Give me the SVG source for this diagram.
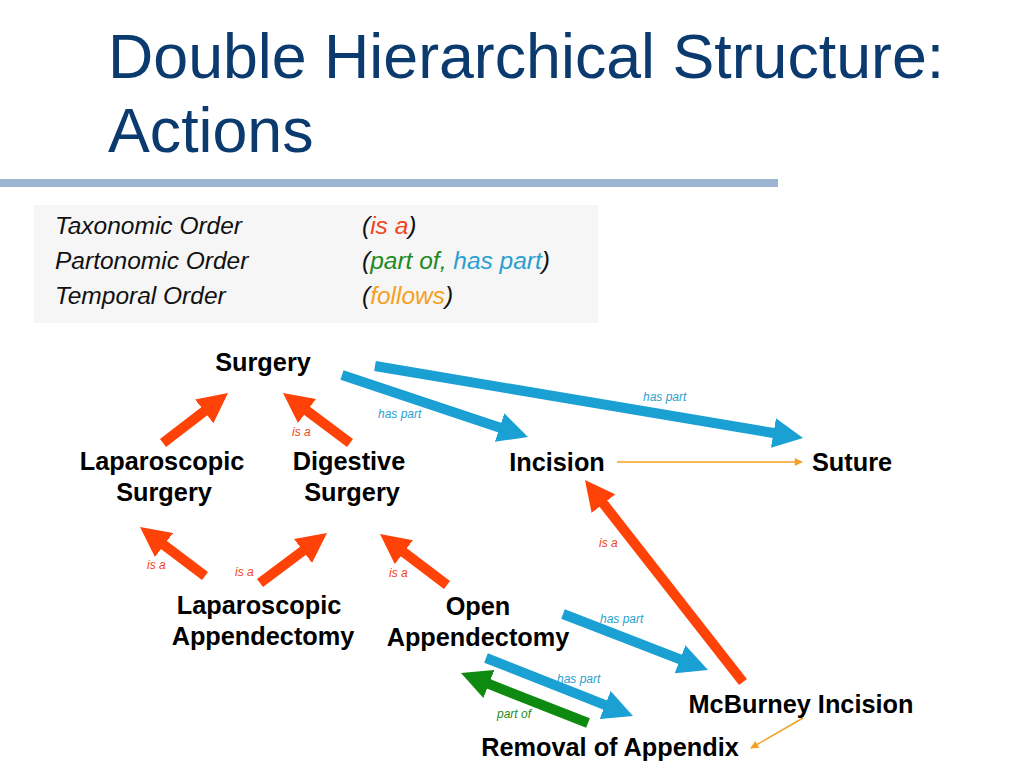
<svg xmlns="http://www.w3.org/2000/svg" width="1024" height="768" viewBox="0 0 1024 768">
<defs>
<style>
.title{font-family:"Liberation Sans",Arial,sans-serif;font-size:62.7px;fill:#0B3A6F}
.leg{font-family:"Liberation Sans",Arial,sans-serif;font-size:24.5px;font-style:italic;fill:#111}
.node{font-family:"Liberation Sans",Arial,sans-serif;font-size:25.3px;font-weight:bold;fill:#000;text-anchor:middle}
.lbl{font-family:"Liberation Sans",Arial,sans-serif;font-size:12px;font-style:italic}
.isa{fill:#F2431A}.hp{fill:#2A9FCF}.po{fill:#1E8A1E}.fo{fill:#F5A020}
.red{stroke:#FF4208;stroke-width:10;fill:none}
.blue{stroke:#1AA0D2;stroke-width:10;fill:none}
.green{stroke:#0E8A10;stroke-width:10;fill:none}
.thin{stroke:#F5A020;stroke-width:1.5;fill:none}
</style>
<marker id="hr" viewBox="0 0 10 10" refX="1" refY="5" markerWidth="3" markerHeight="3" orient="auto" markerUnits="strokeWidth"><path d="M0,0 L10,5 L0,10 z" fill="#FF4208"/></marker>
<marker id="hb" viewBox="0 0 10 10" refX="1" refY="5" markerWidth="3" markerHeight="3" orient="auto" markerUnits="strokeWidth"><path d="M0,0 L10,5 L0,10 z" fill="#1AA0D2"/></marker>
<marker id="hg" viewBox="0 0 10 10" refX="1" refY="5" markerWidth="3" markerHeight="3" orient="auto" markerUnits="strokeWidth"><path d="M0,0 L10,5 L0,10 z" fill="#0E8A10"/></marker>
<marker id="ho" viewBox="0 0 10 10" refX="9" refY="5" markerWidth="9" markerHeight="8" orient="auto" markerUnits="userSpaceOnUse"><path d="M0,0 L10,5 L0,10 z" fill="#F5A020"/></marker>
</defs>
<rect width="1024" height="768" fill="#fff"/>
<g id="title">
<text class="title" x="108" y="78">Double Hierarchical Structure:</text>
<text class="title" x="108" y="152">Actions</text>
<rect x="0" y="179" width="778" height="8" fill="#9BB4D0"/>
</g>
<g id="legend">
<rect x="34" y="205" width="564" height="118" fill="#F6F6F6"/>
<text class="leg" x="55" y="234">Taxonomic Order</text>
<text class="leg" x="55" y="269">Partonomic Order</text>
<text class="leg" x="55" y="304">Temporal Order</text>
<text class="leg" x="362" y="234">(<tspan class="isa">is a</tspan>)</text>
<text class="leg" x="362" y="269">(<tspan class="po">part of, </tspan><tspan class="hp">has part</tspan>)</text>
<text class="leg" x="362" y="304">(<tspan class="fo">follows</tspan>)</text>
</g>
<g id="connectors">
<line class="red" x1="163" y1="443" x2="206.6" y2="409.5" marker-end="url(#hr)"/>
<line class="red" x1="350" y1="443" x2="304.6" y2="409.1" marker-end="url(#hr)"/>
<line class="red" x1="205" y1="576" x2="161.6" y2="543.3" marker-end="url(#hr)"/>
<line class="red" x1="260" y1="583" x2="305.4" y2="549.1" marker-end="url(#hr)"/>
<line class="red" x1="447" y1="585" x2="401.5" y2="550.4" marker-end="url(#hr)"/>
<line class="red" x1="743" y1="682" x2="601.6" y2="501.3" marker-end="url(#hr)"/>
<line class="blue" x1="342" y1="375" x2="502.4" y2="428.5" marker-end="url(#hb)"/>
<line class="blue" x1="375" y1="366" x2="776.4" y2="433.5" marker-end="url(#hb)"/>
<line class="blue" x1="563" y1="614" x2="682.8" y2="660.3" marker-end="url(#hb)"/>
<line class="blue" x1="486" y1="658" x2="607.9" y2="706.1" marker-end="url(#hb)"/>
<line class="green" x1="588" y1="723" x2="486.1" y2="682.9" marker-end="url(#hg)"/>
<line class="thin" x1="617" y1="462" x2="802" y2="462" marker-end="url(#ho)"/>
<line class="thin" x1="803" y1="718" x2="751" y2="748" marker-end="url(#ho)"/>
<text class="lbl isa" x="292" y="436">is a</text>
<text class="lbl isa" x="147" y="569">is a</text>
<text class="lbl isa" x="235" y="576">is a</text>
<text class="lbl isa" x="389" y="577">is a</text>
<text class="lbl isa" x="599" y="547">is a</text>
<text class="lbl hp" x="378" y="418">has part</text>
<text class="lbl hp" x="643" y="401">has part</text>
<text class="lbl hp" x="600" y="623">has part</text>
<text class="lbl hp" x="557" y="683">has part</text>
<text class="lbl po" x="497" y="718">part of</text>
</g>
<g id="surgery"><text class="node" x="263" y="371">Surgery</text></g>
<g id="laparoscopic-surgery"><text class="node" x="162" y="470">Laparoscopic</text><text class="node" x="164" y="501">Surgery</text></g>
<g id="digestive-surgery"><text class="node" x="349" y="470">Digestive</text><text class="node" x="352" y="501">Surgery</text></g>
<g id="incision"><text class="node" x="557" y="471">Incision</text></g>
<g id="suture"><text class="node" x="852" y="471">Suture</text></g>
<g id="laparoscopic-appendectomy"><text class="node" x="259" y="614">Laparoscopic</text><text class="node" x="263" y="645">Appendectomy</text></g>
<g id="open-appendectomy"><text class="node" x="478" y="615">Open</text><text class="node" x="478" y="646">Appendectomy</text></g>
<g id="mcburney-incision"><text class="node" x="801" y="713">McBurney Incision</text></g>
<g id="removal-of-appendix"><text class="node" x="610" y="756">Removal of Appendix</text></g>
</svg>
